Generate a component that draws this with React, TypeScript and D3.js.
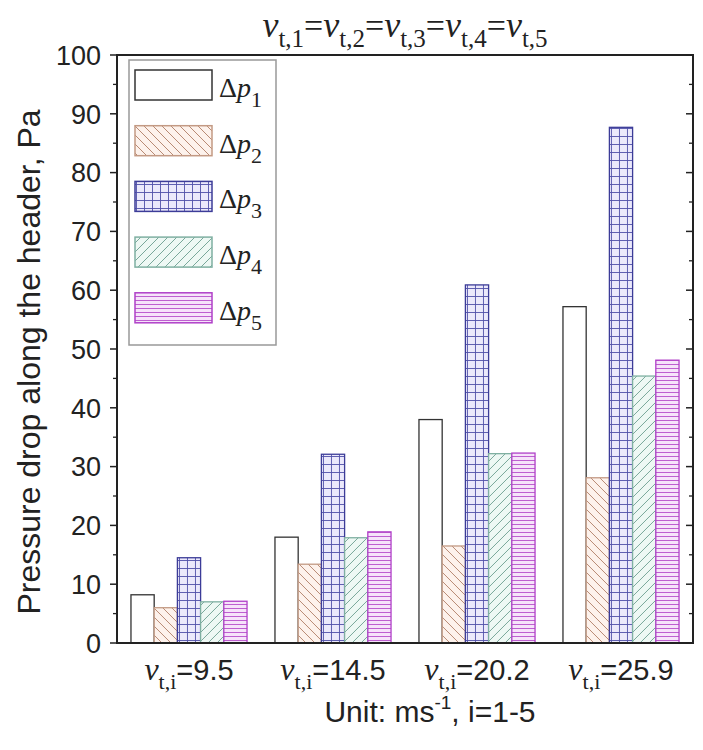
import React from "react";
import * as d3 from "d3";

const groups = ["9.5", "14.5", "20.2", "25.9"];
const seriesKeys = ["1", "2", "3", "4", "5"];
const dp1 = [8.2, 18.0, 38.0, 57.2];
const dp2 = [6.0, 13.4, 16.5, 28.1];
const dp3 = [14.5, 32.1, 60.9, 87.7];
const dp4 = [7.0, 17.9, 32.2, 45.4];
const dp5 = [7.1, 18.9, 32.3, 48.1];
const seriesValues = [dp1, dp2, dp3, dp4, dp5];
const yMajorTicks = [0, 10, 20, 30, 40, 50, 60, 70, 80, 90, 100];
const yMinorTicks = [5, 15, 25, 35, 45, 55, 65, 75, 85, 95];

const fills = ["#ffffff", "url(#pat2)", "url(#pat3)", "url(#pat4)", "url(#pat5)"];
const strokes = ["#333333", "#c39a84", "#3c3c98", "#7fb0a2", "#b040c8"];

const SERIF = "'Liberation Serif', 'Times New Roman', serif";
const SANS = "'Liberation Sans', Arial, sans-serif";

export default function App() {
  const left = 117, right = 693, top = 55, bottom = 643;
  const x0 = d3.scaleBand<string>().domain(groups).range([left, right]).paddingInner(0.194).paddingOuter(0.097);
  const x1 = d3.scaleBand<string>().domain(seriesKeys).range([0, x0.bandwidth()]);
  const y = d3.scaleLinear().domain([0, 100]).range([bottom, top]);

  const legendTop = 70;
  const legendStep = 55.7;

  return (
    <svg width={703} height={750} style={{ position: "absolute", left: 0, top: 0, background: "#fff" }}>
      <defs>
        <pattern id="pat2" patternUnits="userSpaceOnUse" width={9} height={9}>
          <rect width={9} height={9} fill="#fdf2ec" />
          <path d="M0,0 L9,9 M-1,8 L1,10 M8,-1 L10,1" stroke="#b07e66" strokeWidth={0.9} />
        </pattern>
        <pattern id="pat3" patternUnits="userSpaceOnUse" width={8} height={8}>
          <rect width={8} height={8} fill="#ebe9fb" />
          <path d="M0.5,0 L0.5,8 M0,0.5 L8,0.5" stroke="#5050a8" strokeWidth={0.9} />
        </pattern>
        <pattern id="pat4" patternUnits="userSpaceOnUse" width={9} height={9}>
          <rect width={9} height={9} fill="#eef8f4" />
          <path d="M0,9 L9,0 M-1,1 L1,-1 M8,10 L10,8" stroke="#6c9e90" strokeWidth={0.9} />
        </pattern>
        <pattern id="pat5" patternUnits="userSpaceOnUse" width={8} height={4}>
          <rect width={8} height={4} fill="#f6e3fa" />
          <path d="M0,0.5 L8,0.5" stroke="#b850cc" strokeWidth={0.9} />
        </pattern>
      </defs>

      {/* bars */}
      {groups.map((g, gi) => (
        <g key={g} transform={`translate(${x0(g)},0)`}>
          {seriesKeys.map((k, si) => (
            <rect
              key={k}
              x={x1(k)}
              y={y(seriesValues[si][gi])}
              width={x1.bandwidth()}
              height={bottom - y(seriesValues[si][gi])}
              fill={fills[si]}
              stroke={strokes[si]}
              strokeWidth={1.3}
            />
          ))}
        </g>
      ))}

      {/* frame */}
      <rect x={left} y={top} width={right - left} height={bottom - top} fill="none" stroke="#222" strokeWidth={2} />

      {/* y ticks */}
      {yMajorTicks.map((t) => (
        <g key={"L" + t}>
          <line x1={left - 7} x2={left} y1={y(t)} y2={y(t)} stroke="#222" strokeWidth={1.5} />
          <line x1={right - 7} x2={right} y1={y(t)} y2={y(t)} stroke="#222" strokeWidth={1.5} />
          <text x={left - 16} y={y(t)} dy="0.36em" textAnchor="end" fontFamily={SANS} fontSize={27} fill="#222">
            {t}
          </text>
        </g>
      ))}
      {yMinorTicks.map((t) => (
        <g key={"m" + t}>
          <line x1={left - 4} x2={left} y1={y(t)} y2={y(t)} stroke="#222" strokeWidth={1.3} />
          <line x1={right - 4} x2={right} y1={y(t)} y2={y(t)} stroke="#222" strokeWidth={1.3} />
        </g>
      ))}

      {/* y title */}
      <text
        transform={`translate(40,362) rotate(-90)`}
        textAnchor="middle"
        fontFamily={SANS}
        fontSize={32}
        fill="#222"
      >
        Pressure drop along the header, Pa
      </text>

      {/* x group labels */}
      {groups.map((g) => (
        <text key={"xl" + g} x={(x0(g) as number) + x0.bandwidth() / 2} y={680} textAnchor="middle" fill="#222">
          <tspan fontFamily={SERIF} fontStyle="italic" fontSize={32}>v</tspan>
          <tspan fontFamily={SERIF} fontSize={22} dy={9}>t,i</tspan>
          <tspan fontFamily={SANS} fontSize={29} dy={-9}>{"=" + g}</tspan>
        </text>
      ))}

      {/* x title */}
      <text x={430} y={722} textAnchor="middle" fontFamily={SANS} fontSize={30} fill="#222">
        <tspan>Unit: ms</tspan>
        <tspan fontSize={19} dy={-13}>-1</tspan>
        <tspan dy={13}>, i=1-5</tspan>
      </text>

      {/* top title */}
      <text x={405} y={37} textAnchor="middle" fontFamily={SERIF} fontSize={34} fill="#222">
        {seriesKeys.map((k, i) => (
          <React.Fragment key={"t" + k}>
            <tspan fontStyle="italic" fontSize={36}>v</tspan>
            <tspan fontSize={25} dy={10}>{"t," + k}</tspan>
            {i < seriesKeys.length - 1 ? <tspan dy={-10}>=</tspan> : null}
          </React.Fragment>
        ))}
      </text>

      {/* legend */}
      <rect x={129} y={60} width={147} height={285} fill="#fff" stroke="#999" strokeWidth={1.5} />
      {seriesKeys.map((k, si) => (
        <g key={"lg" + k}>
          <rect
            x={135}
            y={legendTop + si * legendStep}
            width={77}
            height={30}
            fill={fills[si]}
            stroke={strokes[si]}
            strokeWidth={1.5}
          />
          <text x={219} y={legendTop + si * legendStep + 27} fontFamily={SERIF} fontSize={28} fill="#222">
            <tspan>Δ</tspan>
            <tspan fontStyle="italic">p</tspan>
            <tspan fontSize={22} dy={10}>{k}</tspan>
          </text>
        </g>
      ))}
    </svg>
  );
}
